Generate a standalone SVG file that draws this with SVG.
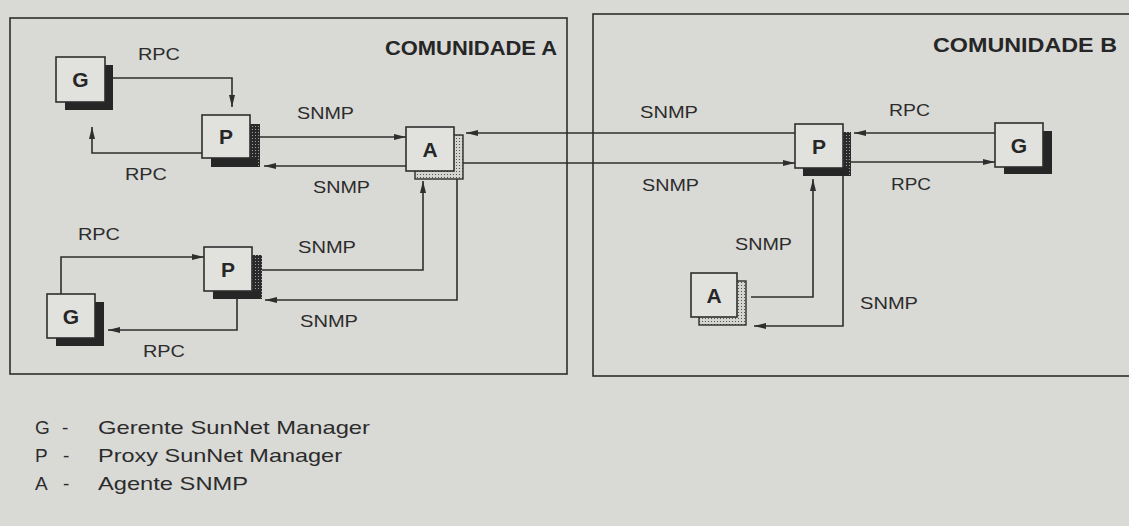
<svg xmlns="http://www.w3.org/2000/svg" width="1129" height="526" viewBox="0 0 1129 526">
<style>
.bg{fill:#d9d9d6}
.frame{fill:none;stroke:#2e2e2e;stroke-width:1.6}
.box{fill:#e1e1de;stroke:#2e2e2e;stroke-width:1.6}
.sh{fill:#262626}
.shp{fill:url(#dk)}
.sha{fill:url(#lt);stroke:#2e2e2e;stroke-width:1.4}
.lbl{font-family:"Liberation Sans",Arial,sans-serif;font-size:17px;fill:#2c2c2c}
.nl{font-family:"Liberation Sans",Arial,sans-serif;font-size:21px;font-weight:bold;fill:#262626;text-anchor:middle}
.title{font-family:"Liberation Sans",Arial,sans-serif;font-size:20px;font-weight:bold;fill:#262626}
.leg{font-family:"Liberation Sans",Arial,sans-serif;font-size:19px;fill:#2c2c2c}
.c{fill:none;stroke:#2e2e2e;stroke-width:1.6;marker-end:url(#ah)}
</style>
<defs>
<pattern id="dk" width="3" height="3" patternUnits="userSpaceOnUse"><rect width="3" height="3" fill="#2a2a2a"/><rect width="1" height="1" fill="#9c9c9c"/></pattern>
<pattern id="lt" width="3" height="3" patternUnits="userSpaceOnUse"><rect width="3" height="3" fill="#d4d4d0"/><rect width="1" height="1" fill="#555"/></pattern>
<marker id="ah" viewBox="0 0 12 6" refX="12" refY="3" markerWidth="12" markerHeight="6" markerUnits="userSpaceOnUse" orient="auto"><path d="M0,0 L12,3 L0,6 Z" fill="#2e2e2e"/></marker>
</defs>
<rect class="bg" x="0" y="0" width="1129" height="526"/>
<g id="comunidade-a">
<rect class="frame" x="10" y="18" width="557" height="356"/>
<text class="title" x="385" y="55" textLength="172" lengthAdjust="spacingAndGlyphs">COMUNIDADE A</text>
</g>
<g id="comunidade-b">
<rect class="frame" x="593" y="14" width="545" height="362"/>
<text class="title" x="933" y="52" textLength="184" lengthAdjust="spacingAndGlyphs">COMUNIDADE B</text>
</g>
<g id="connectors">
<path class="c" d="M113,78 H232 V107"/>
<path class="c" d="M202,153 H92 V127"/>
<path class="c" d="M260,137 H406"/>
<path class="c" d="M406,166 H264"/>
<path class="c" d="M61,294 V257 H204"/>
<path class="c" d="M237,299 V330 H108"/>
<path class="c" d="M262,270 H423 V181"/>
<path class="c" d="M457,179 V300 H265"/>
<path class="c" d="M795,133 H466"/>
<path class="c" d="M463,163 H795"/>
<path class="c" d="M995,133 H854"/>
<path class="c" d="M851,162 H995"/>
<path class="c" d="M751,297 H813 V179"/>
<path class="c" d="M843,176 V326 H754"/>
</g>
<g id="connector-labels">
<text class="lbl" x="138" y="60" textLength="42" lengthAdjust="spacingAndGlyphs">RPC</text>
<text class="lbl" x="125" y="180" textLength="42" lengthAdjust="spacingAndGlyphs">RPC</text>
<text class="lbl" x="297" y="119" textLength="57" lengthAdjust="spacingAndGlyphs">SNMP</text>
<text class="lbl" x="313" y="193" textLength="57" lengthAdjust="spacingAndGlyphs">SNMP</text>
<text class="lbl" x="78" y="240" textLength="42" lengthAdjust="spacingAndGlyphs">RPC</text>
<text class="lbl" x="143" y="357" textLength="42" lengthAdjust="spacingAndGlyphs">RPC</text>
<text class="lbl" x="298" y="253" textLength="58" lengthAdjust="spacingAndGlyphs">SNMP</text>
<text class="lbl" x="300" y="327" textLength="58" lengthAdjust="spacingAndGlyphs">SNMP</text>
<text class="lbl" x="640" y="118" textLength="58" lengthAdjust="spacingAndGlyphs">SNMP</text>
<text class="lbl" x="642" y="191" textLength="57" lengthAdjust="spacingAndGlyphs">SNMP</text>
<text class="lbl" x="735" y="250" textLength="57" lengthAdjust="spacingAndGlyphs">SNMP</text>
<text class="lbl" x="860" y="309" textLength="58" lengthAdjust="spacingAndGlyphs">SNMP</text>
<text class="lbl" x="889" y="116" textLength="41" lengthAdjust="spacingAndGlyphs">RPC</text>
<text class="lbl" x="891" y="190" textLength="40" lengthAdjust="spacingAndGlyphs">RPC</text>
</g>
<g id="node-g1">
<rect class="sh" x="65" y="65" width="48" height="45"/>
<rect class="box" x="56" y="57" width="49" height="45"/>
<text class="nl" x="80.5" y="87">G</text>
</g>
<g id="node-p1">
<rect class="shp" x="211" y="124" width="49" height="43"/>
<rect class="sh" x="211" y="158" width="47" height="9"/>
<rect class="box" x="202" y="115" width="48" height="43"/>
<text class="nl" x="226" y="144">P</text>
</g>
<g id="node-a1">
<rect class="sha" x="415" y="135" width="48" height="44"/>
<rect class="box" x="406" y="127" width="48" height="44"/>
<text class="nl" x="430" y="157">A</text>
</g>
<g id="node-g2">
<rect class="sh" x="56" y="302" width="48" height="44"/>
<rect class="box" x="47" y="294" width="48" height="44"/>
<text class="nl" x="71" y="324">G</text>
</g>
<g id="node-p2">
<rect class="shp" x="213" y="255" width="49" height="44"/>
<rect class="sh" x="213" y="291" width="47" height="8"/>
<rect class="box" x="204" y="247" width="48" height="44"/>
<text class="nl" x="228" y="277">P</text>
</g>
<g id="node-pb">
<rect class="shp" x="803" y="132" width="48" height="44"/>
<rect class="sh" x="803" y="168" width="46" height="8"/>
<rect class="box" x="795" y="124" width="48" height="44"/>
<text class="nl" x="819" y="154">P</text>
</g>
<g id="node-gb">
<rect class="sh" x="1004" y="131" width="48" height="43"/>
<rect class="box" x="995" y="123" width="48" height="44"/>
<text class="nl" x="1019" y="153">G</text>
</g>
<g id="node-ab">
<rect class="sha" x="699" y="281" width="47" height="44"/>
<rect class="box" x="691" y="273" width="46" height="44"/>
<text class="nl" x="714" y="303">A</text>
</g>
<g id="legend">
<text class="leg" x="35" y="434">G</text>
<text class="leg" x="62" y="434">-</text>
<text class="leg" x="98" y="434" textLength="272" lengthAdjust="spacingAndGlyphs">Gerente SunNet Manager</text>
<text class="leg" x="35" y="462">P</text>
<text class="leg" x="63" y="462">-</text>
<text class="leg" x="98" y="462" textLength="244" lengthAdjust="spacingAndGlyphs">Proxy SunNet Manager</text>
<text class="leg" x="35" y="490">A</text>
<text class="leg" x="63" y="490">-</text>
<text class="leg" x="98" y="490" textLength="150" lengthAdjust="spacingAndGlyphs">Agente SNMP</text>
</g>
</svg>
